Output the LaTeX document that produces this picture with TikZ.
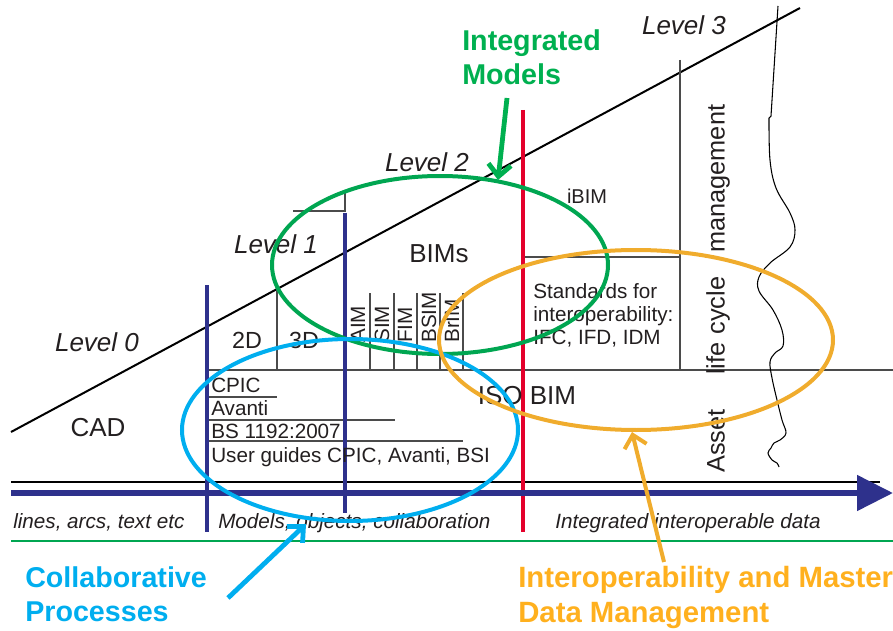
\documentclass[tikz,border=0pt]{standalone}
\usepackage{fontspec}
\setmainfont{Liberation Sans}
\usetikzlibrary{arrows.meta}

\definecolor{bimNavy}{RGB}{46,49,140}
\definecolor{bimRed}{RGB}{228,0,43}
\definecolor{bimGray}{RGB}{75,75,75}
\definecolor{bimText}{RGB}{35,31,32}
\definecolor{bimGreen}{RGB}{0,166,81}
\definecolor{bimCyan}{RGB}{0,174,239}
\definecolor{bimOrange}{RGB}{240,172,45}
\definecolor{bimLblGreen}{RGB}{0,176,80}
\definecolor{bimLblOrange}{RGB}{255,176,30}

\newcommand{\bimfont}[2]{\fontsize{#1}{#2}\selectfont}

\begin{document}
\begin{tikzpicture}[x=0.75pt,y=0.75pt,yscale=-1,xscale=1,
  thinline/.style={draw=bimGray,line width=1.1pt},
  navyline/.style={draw=bimNavy,line width=2.6pt},
  ringline/.style={line width=3pt},
  levelLbl/.style={inner sep=0.75pt,text=bimText,font=\bimfont{19.5}{23}\itshape},
  bigLbl/.style={inner sep=0.75pt,text=bimText,font=\bimfont{19.5}{23}},
  midLbl/.style={anchor=base west,inner sep=0pt,text=bimText,font=\bimfont{15.5}{18}},
  vertLbl/.style={rotate=90,anchor=west,inner sep=0.75pt,text=bimText,font=\bimfont{15.5}{18}},
  axisLbl/.style={anchor=base west,inner sep=0pt,text=bimText,font=\bimfont{15.5}{18}\itshape},
  callout/.style={anchor=north west,align=left,inner sep=0pt,font=\bimfont{21.5}{26}\bfseries},
  pointer/.style={line width=3.6pt,-{Straight Barb[length=9pt,width=17pt]}}
]
\useasboundingbox (0,0) rectangle (893,631);

\draw [black, line width=1.5pt] (11,432) -- (800,8) ;
\draw [black, line width=1.8pt] (11,482) -- (880,482) ;
\draw [bimGreen, line width=0.8pt] (11,541) -- (893,541) ;

\draw [thinline] (207,370) -- (893,370) ;
\draw [thinline] (277,288) -- (277,370) ;
\foreach \x in {370,394,417,440,463} {
  \draw [thinline] (\x,293) -- (\x,370) ;
}
\draw [thinline] (293,211) -- (345,211) -- (345,193) ;
\draw [thinline] (523,257) -- (680,257) ;
\draw [thinline] (680,60) -- (680,370) ;
\draw [thinline] (207,397) -- (277,397) ;
\draw [thinline] (207,420) -- (395,420) ;
\draw [thinline] (207,441) -- (463,441) ;

\draw [navyline] (207,285) -- (207,532) ;
\draw [navyline] (345,213) -- (345,513) ;
\draw [bimRed, line width=3pt] (523,110) -- (523,532) ;

\draw [black, line width=0.8pt] (778,6) -- (771,116) -- (769,118) -- plot [smooth, tension=0.6] coordinates {(769,118) (770,160) (776,188) (790,213) (795,230) (790,247) (770,263) (759,277) (759,291) (773,310) (782,330) (783,346) (775,353) (770,362) (772,378) (777,400) (782,420) (786,433) (780,440) (774,443) (771,448) (768,453) (772,460) (777,463) (779,467)} ;

\coordinate (axStart) at (11,493) ;
\coordinate (axEnd) at (893,493) ;
\draw [bimNavy, line width=4.5pt, -{Triangle[length=27pt,width=26pt]}] (axStart) -- (axEnd) ;

\node [levelLbl] (lvl0) at (97,342) {Level 0};
\node [levelLbl] (lvl1) at (276,244) {Level 1};
\node [levelLbl] (lvl2) at (427,162) {Level 2};
\node [levelLbl] (lvl3) at (684,25) {Level 3};

\node [bigLbl] (cad) at (98,428) {CAD};
\node [bigLbl] (bims) at (439,254) {BIMs};
\node [bigLbl] (isobim) at (527,396) {ISO BIM};
\node [bigLbl, font=\bimfont{17.5}{20}] (twoD) at (247,340) {2D};
\node [bigLbl, font=\bimfont{17.5}{20}] (threeD) at (304,340) {3D};
\node [bigLbl, font=\bimfont{15}{18}] (ibim) at (587,196) {iBIM};

\node [vertLbl] (aim) at (358,344) {AIM};
\node [vertLbl] (sim) at (382,344) {SIM};
\node [vertLbl] (fim) at (405,344) {FIM};
\node [vertLbl] (bsim) at (429,344) {BSIM};
\node [vertLbl] (brim) at (452,344) {BrIM};

\node [midLbl] (cpic) at (211,392) {CPIC};
\node [midLbl] (avanti) at (211,415) {Avanti};
\node [midLbl] (bs1192) at (211,438) {BS 1192:2007};
\node [midLbl] (guides) at (211,462) {User guides CPIC, Avanti, BSI};

\node [midLbl] (std1) at (533,298) {Standards for};
\node [midLbl] (std2) at (533,321) {interoperability:};
\node [midLbl] (std3) at (533,344) {IFC, IFD, IDM};

\node [vertLbl, font=\bimfont{19}{22}] (alcm) at (718,474) {Asset\hspace{26pt}life\hspace{6pt}cycle\hspace{18pt}management};

\node [axisLbl] (ax1) at (13,528) {lines, arcs, text etc};
\node [axisLbl] (ax2) at (218,528) {Models, objects, collaboration};
\node [axisLbl] (ax3) at (555,528) {Integrated interoperable data};

\draw [bimGreen, ringline] (440,265) ellipse [x radius=168, y radius=89] ;
\draw [bimCyan, ringline] (350,430) ellipse [x radius=168, y radius=91] ;
\draw [bimOrange, ringline] (636,340) ellipse [x radius=197, y radius=90] ;

\node [callout, text=bimLblGreen] (intModels) at (462,29) {Integrated\\Models};
\node [callout, text=bimCyan] (collab) at (25,566) {Collaborative\\Processes};
\node [callout, text=bimLblOrange, font=\bimfont{22}{26}\bfseries] (interop) at (518,566) {Interoperability and Master\\Data Management};

\coordinate (imTail) at (507,98) ;
\coordinate (imTip) at (498,180) ;
\coordinate (cpTail) at (228,598) ;
\coordinate (cpTip) at (306,524) ;
\coordinate (ioTail) at (664,562) ;
\coordinate (ioTip) at (632,432) ;
\draw [pointer, bimLblGreen] (imTail) -- (imTip) ;
\draw [pointer, bimCyan] (cpTail) -- (cpTip) ;
\draw [pointer, bimOrange, line width=3pt] (ioTail) -- (ioTip) ;

\end{tikzpicture}
\end{document}
